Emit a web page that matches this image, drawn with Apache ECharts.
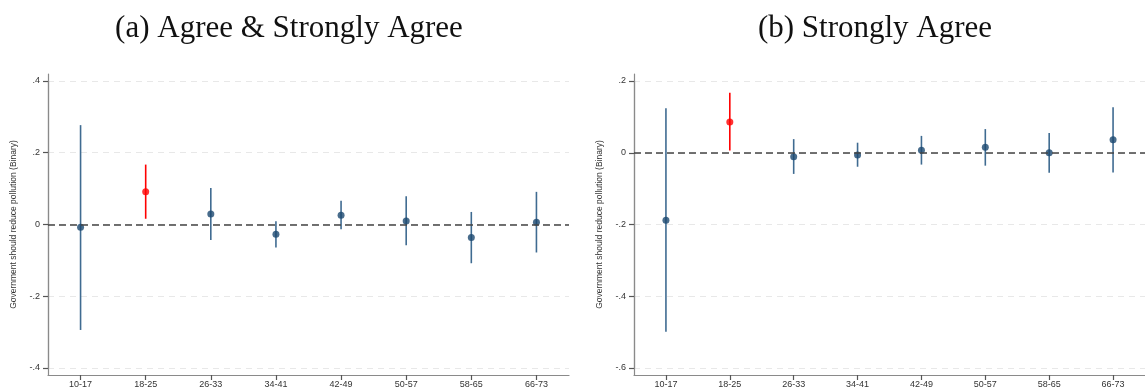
<!DOCTYPE html>
<html>
<head>
<meta charset="utf-8">
<script src="https://cdn.jsdelivr.net/npm/echarts@6/dist/echarts.min.js"></script>
<style>
  html, body { margin: 0; padding: 0; background: #ffffff; }
  #chart { width: 1145px; height: 392px; }
</style>
</head>
<body>
<div id="chart"></div>
<script>
// Age-group coefficients with 95% confidence intervals
const ageGroups = ['10-17', '18-25', '26-33', '34-41', '42-49', '50-57', '58-65', '66-73'];

// Panel (a): Agree & Strongly Agree
const agreeEst  = [-0.008, 0.091, 0.029, -0.027, 0.026, 0.010, -0.036, 0.006];
const agreeLow  = [-0.294, 0.016, -0.043, -0.064, -0.013, -0.058, -0.108, -0.078];
const agreeHigh = [0.277, 0.167, 0.102, 0.009, 0.066, 0.079, 0.035, 0.091];

// Panel (b): Strongly Agree
const strongEst  = [-0.188, 0.086, -0.011, -0.006, 0.007, 0.015, 0.000, 0.036];
const strongLow  = [-0.499, 0.006, -0.059, -0.039, -0.033, -0.036, -0.056, -0.055];
const strongHigh = [0.124, 0.167, 0.038, 0.028, 0.047, 0.066, 0.055, 0.127];

// Value-axis ranges and tick step for each panel
const rangeA = [-0.4, 0.4];
const rangeB = [-0.6, 0.2];
const tickStep = 0.2;

const highlightIndex = 1;   // the 18-25 group is drawn in red
const navy = '#1a476f';
const barBlue = '#3f6b91';
const red = '#ff0000';
const axisGrey = '#8a8a8a';
const tickGrey = '#555555';

function fmtTick(v) {
  if (Math.abs(v) < 1e-9) return '0';
  const s = String(Math.round(v * 10) / 10);
  return s.replace('0.', '.');
}

const chart = echarts.init(document.getElementById('chart'));

// Each panel has an outer frame grid (axis lines + category axis) and an
// inner plotting grid (value scale, data) inset a few pixels top and bottom.
const panelLeft = [48, 634];
const plotWidth = 521;
const outerTop = 74, outerHeight = 301, inset = 7;

const grids = [];
const xAxes = [];
const yAxes = [];

function addPanel(p, range) {
  const outer = grids.length;
  grids.push({ left: panelLeft[p], top: outerTop, width: plotWidth, height: outerHeight });
  grids.push({ left: panelLeft[p], top: outerTop + inset, width: plotWidth, height: outerHeight - 2 * inset });
  const inner = outer + 1;

  xAxes.push({
    type: 'category', gridIndex: outer, data: ageGroups, boundaryGap: true,
    axisLine: { show: true, onZero: false, lineStyle: { color: axisGrey, width: 1.2 } },
    axisTick: { show: true, alignWithLabel: true, length: 5, lineStyle: { color: tickGrey, width: 1.2 } },
    axisLabel: { fontFamily: 'Liberation Sans', fontSize: 9, color: '#333', margin: 5 },
    splitLine: { show: false }
  });
  xAxes.push({
    type: 'category', gridIndex: inner, data: ageGroups, boundaryGap: true, show: false
  });

  yAxes.push({
    type: 'value', gridIndex: outer, min: 0, max: 1,
    axisLine: { show: true, onZero: false, lineStyle: { color: axisGrey, width: 1.2 } },
    axisTick: { show: false }, axisLabel: { show: false }, splitLine: { show: false }
  });
  yAxes.push({
    type: 'value', gridIndex: inner, min: range[0], max: range[1], interval: tickStep,
    name: 'Government should reduce pollution (Binary)',
    nameLocation: 'middle', nameGap: 30,
    nameTextStyle: { fontFamily: 'Liberation Sans', fontSize: 8.5, color: '#333' },
    axisLine: { show: true, onZero: false, lineStyle: { color: axisGrey, width: 1.2 } },
    axisTick: { show: true, inside: false, length: 5, lineStyle: { color: tickGrey, width: 1.2 } },
    axisLabel: { margin: 8, fontFamily: 'Liberation Sans', fontSize: 9, color: '#333', formatter: fmtTick },
    splitLine: { show: true, lineStyle: { color: '#e8e8e8', type: [6, 5], width: 1 } }
  });
  return inner;
}

function intervalSeries(axisIndex, low, high) {
  return {
    type: 'custom',
    xAxisIndex: axisIndex,
    yAxisIndex: axisIndex,
    data: ageGroups.map((g, i) => [i, low[i], high[i]]),
    renderItem: function (params, api) {
      const i = api.value(0);
      const p1 = api.coord([i, api.value(1)]);
      const p2 = api.coord([i, api.value(2)]);
      return {
        type: 'line',
        shape: { x1: p1[0], y1: p1[1], x2: p2[0], y2: p2[1] },
        style: { stroke: i === highlightIndex ? red : barBlue, lineWidth: 1.6 }
      };
    },
    clip: false,
    z: 3
  };
}

function zeroLineSeries(axisIndex) {
  return {
    type: 'line',
    xAxisIndex: axisIndex,
    yAxisIndex: axisIndex,
    data: [],
    silent: true,
    z: 2,
    markLine: {
      symbol: 'none',
      silent: true,
      label: { show: false },
      data: [{ yAxis: 0 }],
      lineStyle: { color: '#444', type: [7, 4], width: 1.7 }
    }
  };
}

function pointSeries(axisIndex, est) {
  return {
    type: 'scatter',
    xAxisIndex: axisIndex,
    yAxisIndex: axisIndex,
    symbol: 'circle',
    symbolSize: 7,
    data: est.map((v, i) => ({
      value: [i, v],
      itemStyle: { color: i === highlightIndex ? red : navy }
    })),
    z: 4
  };
}

const axA = addPanel(0, rangeA);
const axB = addPanel(1, rangeB);

chart.setOption({
  animation: false,
  backgroundColor: '#ffffff',
  title: [
    {
      text: '(a) Agree & Strongly Agree',
      left: 284, top: 8, textAlign: 'center',
      textStyle: { fontFamily: 'Liberation Serif', fontWeight: 'normal', fontSize: 31, color: '#111' }
    },
    {
      text: '(b) Strongly Agree',
      left: 870, top: 8, textAlign: 'center',
      textStyle: { fontFamily: 'Liberation Serif', fontWeight: 'normal', fontSize: 31, color: '#111' }
    }
  ],
  grid: grids,
  xAxis: xAxes,
  yAxis: yAxes,
  series: [
    zeroLineSeries(axA),
    intervalSeries(axA, agreeLow, agreeHigh),
    pointSeries(axA, agreeEst),
    zeroLineSeries(axB),
    intervalSeries(axB, strongLow, strongHigh),
    pointSeries(axB, strongEst)
  ]
});
</script>
</body>
</html>
